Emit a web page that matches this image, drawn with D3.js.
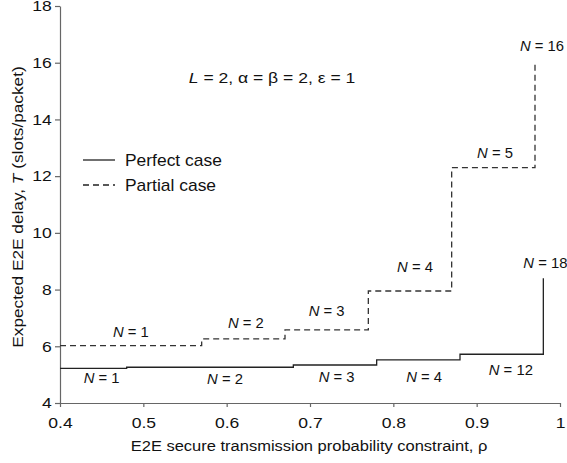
<!DOCTYPE html>
<html>
<head>
<meta charset="utf-8">
<script src="https://cdn.jsdelivr.net/npm/d3@7"></script>
<style>
  html, body { margin: 0; padding: 0; background: #fff; overflow: hidden; }
  svg { display: block; }
  svg text { font-family: "Liberation Sans", Arial, sans-serif; fill: #111; }
  .axis path, .axis line { stroke: #666; stroke-width: 1.2; }
  .axis text { font-size: 15px; fill: #111; }
</style>
</head>
<body>
<div class="chart"></div>
<script>

//////////
// DATA //
//////////

// perfect case: step starts (rho) and delay T
var perfectRho = [0.4, 0.48, 0.68, 0.78, 0.88, 0.98],
    perfectT = [5.22, 5.26, 5.34, 5.52, 5.72, 8.40];

// partial case
var partialRho = [0.4, 0.57, 0.67, 0.77, 0.87, 0.97],
    partialT = [6.02, 6.26, 6.58, 7.95, 12.30, 16.04];

var xTicks = [0.4, 0.5, 0.6, 0.7, 0.8, 0.9, 1],
    yTicks = [4, 6, 8, 10, 12, 14, 16, 18];

// N labels for each step
var perfectN = ['1', '2', '3', '4', '12', '18'],
    partialN = ['1', '2', '3', '4', '5', '16'];

var seriesNames = ['Perfect case', 'Partial case'];

//////////////////////
// INITIAL SETTINGS //
//////////////////////

var w = 567,
    h = 463,
    margin = { top: 6, right: 7, bottom: 60, left: 60 };

// where each N label sits, in data units (x center, y baseline)
var perfectLabelPos = [[0.450, 4.71], [0.598, 4.67], [0.732, 4.74], [0.837, 4.75], [0.941, 4.99], [0.956, 8.75]],
    partialLabelPos = [[0.485, 6.34], [0.623, 6.66], [0.720, 7.07], [0.826, 8.63], [0.922, 12.64], [0.952, 16.40]];

//////////////////
// CREATING SVG //
//////////////////

var svg = d3.select('.chart')
    .append('svg')
    .attr('width', w)
    .attr('height', h);

// the original lettering is a bit wider than Liberation Sans
function addText(x, y, size, sx, anchor) {
    return svg.append('text')
        .attr('transform', 'translate(' + x + ',' + y + ') scale(' + sx + ',1)')
        .attr('text-anchor', anchor || 'start')
        .style('font-size', size + 'px');
}

////////////
// SCALES //
////////////

var xScale = d3.scaleLinear()
    .domain([0.4, 1])
    .range([margin.left, w - margin.right]);

var yScale = d3.scaleLinear()
    .domain([4, 18])
    .range([h - margin.bottom, margin.top]);

//////////
// AXIS //
//////////

var xAxis = d3.axisBottom(xScale)
    .tickValues(xTicks)
    .tickSizeInner(4)
    .tickSizeOuter(0)
    .tickPadding(10)
    .tickFormat(d3.format(''));

svg.append('g')
    .attr('class', 'axis')
    .attr('transform', 'translate(0,' + (h - margin.bottom) + ')')
    .call(xAxis)
    .selectAll('text')
    .attr('transform', 'scale(1.17,1)');

var yAxis = d3.axisLeft(yScale)
    .tickValues(yTicks)
    .tickSizeInner(5)
    .tickSizeOuter(0)
    .tickPadding(2);

svg.append('g')
    .attr('class', 'axis')
    .attr('transform', 'translate(' + margin.left + ',0)')
    .call(yAxis)
    .selectAll('text')
    .attr('transform', 'scale(1.17,1)');

// axis titles
addText(309, 451, 15, 1.1, 'middle')
    .text('E2E secure transmission probability constraint, \u03c1');

var yTitle = svg.append('text')
    .attr('transform', 'translate(23,207) rotate(-90) scale(1.15,1)')
    .attr('text-anchor', 'middle')
    .style('font-size', '15px');
yTitle.append('tspan').text('Expected E2E delay, ');
yTitle.append('tspan').style('font-style', 'italic').text('T');
yTitle.append('tspan').text(' (slots/packet)');

///////////
// LINES //
///////////

var line = d3.line()
    .x(function(d) { return xScale(d[0]); })
    .y(function(d) { return yScale(d[1]); })
    .curve(d3.curveStepAfter);

var perfect = d3.zip(perfectRho, perfectT),
    partial = d3.zip(partialRho, partialT);

svg.append('path')
    .datum(perfect)
    .attr('d', line)
    .attr('fill', 'none')
    .attr('stroke', '#222')
    .attr('stroke-width', 1.3);

svg.append('path')
    .datum(partial)
    .attr('d', line)
    .attr('fill', 'none')
    .attr('stroke', '#333')
    .attr('stroke-width', 1.3)
    .attr('stroke-dasharray', '6,4');

////////////
// LABELS //
////////////

function drawN(names, pos) {
    names.forEach(function(n, i) {
        var last = i === names.length - 1;
        var t = addText(xScale(pos[i][0]), yScale(pos[i][1]), 14, 1.06, last ? 'start' : 'middle');
        t.append('tspan').style('font-style', 'italic').text('N');
        t.append('tspan').text(' = ' + n);
    });
}

drawN(perfectN, perfectLabelPos);
drawN(partialN, partialLabelPos);

// parameter note
var note = addText(272, 83, 15, 1.17, 'middle');
note.append('tspan').style('font-style', 'italic').text('L');
note.append('tspan').text(' = 2, \u03b1 = \u03b2 = 2, \u03b5 = 1');

////////////
// LEGEND //
////////////

seriesNames.forEach(function(name, i) {
    svg.append('line')
        .attr('x1', 83).attr('x2', 115)
        .attr('y1', 160 + i * 25).attr('y2', 160 + i * 25)
        .attr('stroke', '#222')
        .attr('stroke-width', 1.3)
        .attr('stroke-dasharray', i === 0 ? null : '6,4');
    addText(125, 166 + i * 25, 16, 1.09).text(name);
});

</script>
</body>
</html>
